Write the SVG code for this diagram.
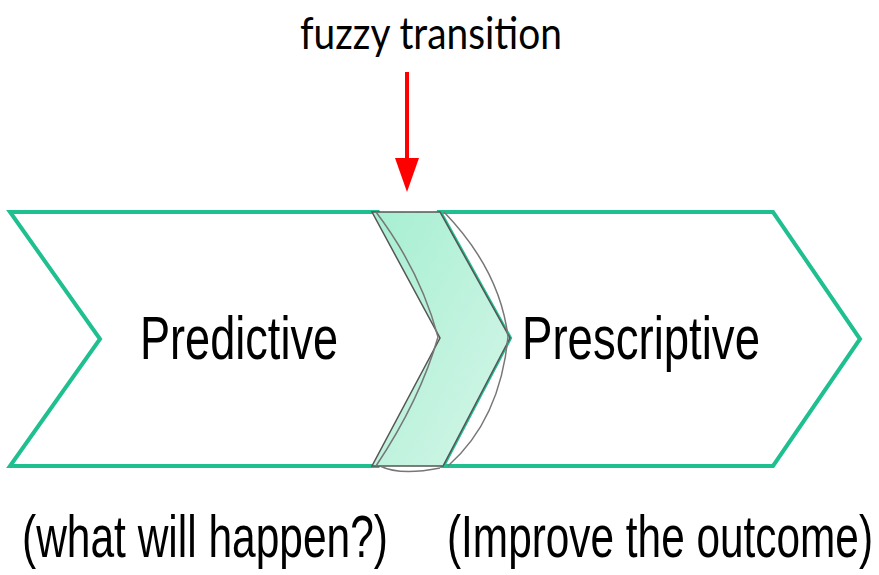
<svg xmlns="http://www.w3.org/2000/svg" width="879" height="575" viewBox="0 0 879 575">
<style>
.chev{fill:#fff;stroke:#1fbf8f;stroke-width:4;stroke-linejoin:miter}
.t{font-family:"Liberation Sans",Arial,sans-serif;fill:#000;text-anchor:middle}
.sk{fill:none;stroke:#777;stroke-width:1.5}
</style>
<defs>
<linearGradient id="g" x1="0" y1="0" x2="1" y2="1">
<stop offset="0" stop-color="#a6efd2"/>
<stop offset="1" stop-color="#d6f6e9"/>
</linearGradient>
</defs>
<g id="predictive">
<polygon class="chev" points="10,212 378,212 445,338 378,466 10,466 100,339"/>
<text class="t" transform="translate(239,359) scale(0.728,1)" font-size="62">Predictive</text>
</g>
<g id="prescriptive">
<polygon class="chev" points="440,212 773,212 860,339 773,466 443,466 510,338"/>
<text class="t" transform="translate(641,359) scale(0.735,1)" font-size="62">Prescriptive</text>
</g>
<g id="transition">
<polygon points="372,212 440,212 510,338 443,466 372,466 440,338" fill="url(#g)" stroke="#555" stroke-width="1.5"/>
<path class="sk" d="M376,212 Q420,270 438,337 Q420,400 376,466"/>
<path class="sk" d="M444,212 Q500,270 508,337 Q500,420 448,466"/>
<path class="sk" d="M380,466 Q400,476 440,468"/>
</g>
<g id="labels">
<text class="t" transform="translate(205,557) scale(0.708,1)" font-size="60">(what will happen?)</text>
<text class="t" transform="translate(660,557) scale(0.706,1)" font-size="60">(Improve the outcome)</text>
<text x="431" y="49" font-family="Lato,'Liberation Sans',sans-serif" font-size="44" text-anchor="middle" textLength="262" lengthAdjust="spacingAndGlyphs">fuzzy transition</text>
</g>
<g id="connectors">
<line x1="407" y1="72" x2="407" y2="162" stroke="#ff0000" stroke-width="4"/>
<polygon points="395,158 419,158 407,192" fill="#ff0000"/>
</g>
</svg>
